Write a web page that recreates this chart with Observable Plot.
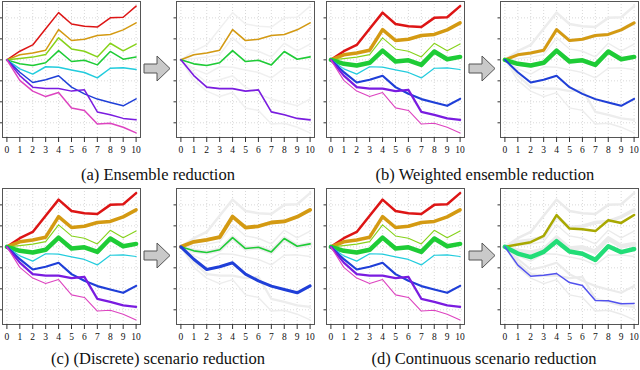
<!DOCTYPE html>
<html><head><meta charset="utf-8">
<script src="https://cdn.jsdelivr.net/npm/d3@7"></script>
<script src="https://cdn.jsdelivr.net/npm/@observablehq/plot@0.6"></script>
<style>
body{margin:0;background:#fff;}
#wrap{position:relative;width:640px;height:370px;overflow:hidden;background:#fff;}
.p{position:absolute;}
.cap{position:absolute;width:320px;text-align:center;font-family:"Liberation Serif","Times New Roman",serif;font-size:16.5px;color:#111;white-space:nowrap;line-height:1;}
#arrows{position:absolute;left:0;top:0;}
</style></head>
<body><div id="wrap"></div>
<script>
// ---- data ----
const steps = [0,1,2,3,4,5,6,7,8,9,10];
const yTicks = [-3,-2,-1,0,1,2];
const red     = [0, 0.41, 0.71, 1.48, 2.25, 1.71, 1.60, 1.56, 2.00, 2.03, 2.56];
const orange  = [0, 0.24, 0.33, 0.46, 1.44, 0.92, 0.98, 1.16, 1.21, 1.43, 1.76];
const lime    = [0, 0.06, 0.13, 0.25, 1.05, 0.52, 0.41, 0.14, 0.79, 0.43, 0.75];
const green   = [0, -0.19, -0.27, -0.14, 0.44, -0.08, -0.02, -0.24, 0.40, 0.03, 0.14];
const cyan    = [0, -0.43, -0.68, -0.33, -0.35, -0.48, -0.60, -0.86, -0.40, -0.38, -0.46];
const blue    = [0, -0.59, -1.08, -0.95, -0.76, -1.30, -1.62, -1.87, -2.03, -2.19, -1.86];
const purple  = [0, -0.75, -1.30, -1.37, -1.37, -1.49, -1.43, -2.48, -2.62, -2.79, -2.86];
const magenta = [0, -0.98, -1.49, -1.75, -1.56, -2.29, -2.41, -3.06, -3.02, -3.21, -3.48];
// continuous scenario reduction results
const olive   = [0, 0.11, 0.22, 0.52, 1.51, 0.87, 0.84, 0.75, 1.27, 1.14, 1.52];
const mint    = [0, -0.32, -0.49, -0.24, 0.27, -0.22, -0.33, -0.62, 0.03, -0.25, -0.10];
const violet  = [0, -0.87, -1.40, -1.35, -1.27, -1.70, -1.84, -2.56, -2.57, -2.71, -2.70];

const captions = ["(a) Ensemble reduction", "(b) Weighted ensemble reduction",
                  "(c) (Discrete) scenario reduction", "(d) Continuous scenario reduction"];

const C = {red:"#DD1515", orange:"#D49A12", lime:"#86D21A", green:"#1ECC36", cyan:"#22CCDD",
           blue:"#1F3FD8", purple:"#7A1CE0", magenta:"#DD44C0",
           olive:"#A8A800", mint:"#22DD77", violet:"#5252EE"};

const all = [red, orange, lime, green, cyan, blue, purple, magenta];
const allCols = [C.red, C.orange, C.lime, C.green, C.cyan, C.blue, C.purple, C.magenta];
const thin = [1.5,1.5,1.5,1.5,1.5,1.5,1.5,1.5];
const weighted = [2.5,3.5,1.1,4.5,1.2,2.2,2.2,1.1];

function S(arr, col, w){ return {arr, col, w}; }

const panels = [
  {x:2,   y:1, bg:null, lines: all.map((a,i)=>S(a, allCols[i], thin[i]))},
  {x:176, y:1, bg:{w:thin, c:"#f0f0f0"}, lines:[S(orange,C.orange,1.6), S(green,C.green,1.6), S(purple,C.purple,1.6)]},
  {x:326, y:1, bg:null, lines: all.map((a,i)=>S(a, allCols[i], weighted[i]))},
  {x:500, y:1, bg:{w:weighted, c:"#ededed"}, lines:[S(orange,C.orange,3), S(green,C.green,4.5), S(blue,C.blue,2)]},
  {x:2,   y:188, bg:null, lines: all.map((a,i)=>S(a, allCols[i], weighted[i]))},
  {x:176, y:188, bg:{w:weighted, c:"#ededed"}, lines:[S(orange,C.orange,3.8), S(green,C.green,1.6), S(blue,C.blue,3)]},
  {x:326, y:188, bg:null, lines: all.map((a,i)=>S(a, allCols[i], weighted[i]))},
  {x:500, y:188, bg:{w:weighted, c:"#ebebeb"}, lines:[S(olive,C.olive,2.5), S(mint,C.mint,4.5), S(violet,C.violet,1.5)]},
];

const FW = 138, FH = 136, mL = 5, mR = 2, mT = 2, mB = 26;
const wrap = document.getElementById("wrap");
const serif = "'Liberation Serif', 'Times New Roman', serif";

panels.forEach(p => {
  const marks = [
    Plot.gridX(steps, {stroke:"#c8c8c8", strokeOpacity:0.7, strokeDasharray:"1,2"}),
    Plot.gridY(yTicks, {stroke:"#c8c8c8", strokeOpacity:0.7, strokeDasharray:"1,2"})
  ];
  if (p.bg) {
    all.forEach((a,i) => marks.push(Plot.line(a, {x:(d,j)=>steps[j], y:d=>d, stroke:p.bg.c, strokeWidth:Math.max(1.4, p.bg.w[i])})));
  }
  p.lines.forEach(l => marks.push(Plot.line(l.arr, {x:(d,j)=>steps[j], y:d=>d, stroke:l.col, strokeWidth:l.w})));
  marks.push(Plot.frame({stroke:"#555"}));
  marks.push(Plot.axisX(steps, {tickSize:5, tickPadding:4, stroke:"#333", fill:"#111", fontFamily:serif, fontSize:9.5}));
  marks.push(Plot.axisY(yTicks, {tickSize:2.5, tickFormat:()=>"", stroke:"#333"}));
  const svg = Plot.plot({
    width: FW + mL + mR, height: FH + mT + mB,
    marginLeft:mL, marginRight:mR, marginTop:mT, marginBottom:mB,
    x:{domain:[-0.34, 10.34]},
    y:{domain:[-3.7, 2.78]},
    style:{fontFamily:serif, fontSize:"9.5px", background:"transparent", overflow:"visible"},
    marks
  });
  svg.classList.add("p");
  svg.style.left = (p.x - mL) + "px";
  svg.style.top = (p.y - mT) + "px";
  wrap.appendChild(svg);
});

// arrows
const ns = "http://www.w3.org/2000/svg";
const asvg = document.createElementNS(ns, "svg");
asvg.setAttribute("id","arrows"); asvg.setAttribute("width",640); asvg.setAttribute("height",370);
[[144,68.5],[469,68.5],[144,255.5],[469,255.5]].forEach(([x0,yc]) => {
  const pts = [[x0,yc-4.5],[x0+13,yc-4.5],[x0+13,yc-12.5],[x0+26,yc],[x0+13,yc+12.5],[x0+13,yc+4.5],[x0,yc+4.5]];
  const poly = document.createElementNS(ns, "polygon");
  poly.setAttribute("points", pts.map(q=>q.join(",")).join(" "));
  poly.setAttribute("fill","#c9c9c9"); poly.setAttribute("stroke","#555"); poly.setAttribute("stroke-width","1");
  asvg.appendChild(poly);
});
wrap.appendChild(asvg);

// captions
[[158,167],[485,167],[158,351],[484,351]].forEach(([x,y],i) => {
  const d = document.createElement("div");
  d.className = "cap"; d.textContent = captions[i];
  d.style.left = (x - 160) + "px"; d.style.top = y + "px";
  wrap.appendChild(d);
});
</script>
</body></html>
